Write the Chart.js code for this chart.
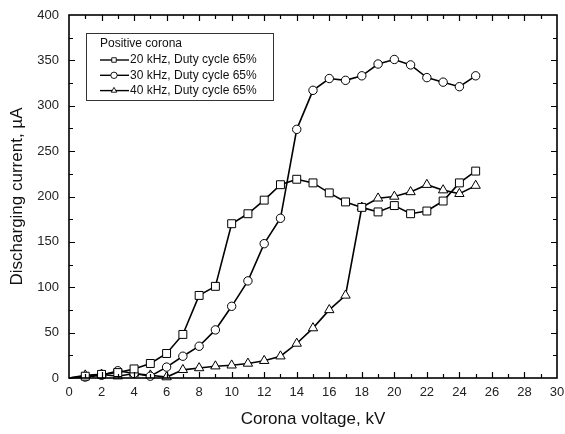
<!DOCTYPE html>
<html>
<head>
<meta charset="utf-8">
<script src="https://cdn.jsdelivr.net/npm/chart.js@4/dist/chart.umd.min.js"></script>
<style>
  html, body { margin: 0; padding: 0; background: #fff; }
  #wrap { width: 565px; height: 434px; }
</style>
</head>
<body>
<div id="wrap"><canvas id="chart"></canvas></div>
<script>
// corona voltage, kV
var voltage = [0, 1, 2, 3, 4, 5, 6, 7, 8, 9, 10, 11, 12, 13, 14, 15, 16, 17, 18, 19, 20, 21, 22, 23, 24, 25];
// discharging current, uA
var current20k = [0, 2, 4, 6, 10, 16, 27, 48, 91, 101, 170, 181, 196, 213, 219, 215, 204, 194, 188, 183, 190, 181, 184, 195, 215, 228];
var current30k = [0, 1, 3, 8, 5, 2, 12, 24, 35, 53, 79, 107, 148, 176, 274, 317, 330, 328, 333, 346, 351, 345, 331, 326, 321, 333];
var current40k = [0, 3, 4, 2, 5, 3, 1, 9, 11, 13, 14, 16, 19, 24, 38, 55, 75, 91, 188, 198, 200, 205, 213, 207, 203, 212];
var seriesLabels = ['20 kHz, Duty cycle 65%', '30 kHz, Duty cycle 65%', '40 kHz, Duty cycle 65%'];
var legendTitle = 'Positive corona';

var FONT = '"Liberation Sans", Arial, sans-serif';

function points(ys) {
    return voltage.map(function (v, i) { return {x: v, y: ys[i]}; });
}

function series(label, ys, style, radius) {
    return {
        label: label,
        data: points(ys),
        borderColor: '#000',
        borderWidth: 1.6,
        backgroundColor: '#fff',
        pointStyle: style,
        // no marker drawn on the axis at 0 kV
        pointRadius: function (c) { return c.dataIndex === 0 ? 0 : radius; },
        pointBorderWidth: 1,
        pointBorderColor: '#000',
        pointBackgroundColor: '#fff',
        tension: 0,
        clip: false
    };
}

// frame with inward ticks on all four sides
var frameTicks = {
    id: 'frameTicks',
    afterDatasetsDraw: function (chart) {
        var ctx = chart.ctx, a = chart.chartArea;
        var xs = chart.scales.x, ys = chart.scales.y;
        ctx.save();
        ctx.strokeStyle = '#000';
        ctx.lineWidth = 1.2;
        ctx.beginPath();
        for (var v = 1; v < 30; v++) {
            var px = Math.round(xs.getPixelForValue(v)) + 0.5;
            var len = v % 2 === 0 ? 6 : 4;
            ctx.moveTo(px, a.bottom); ctx.lineTo(px, a.bottom - len);
            ctx.moveTo(px, a.top); ctx.lineTo(px, a.top + len);
        }
        for (var u = 25; u < 400; u += 25) {
            var py = Math.round(ys.getPixelForValue(u)) + 0.5;
            var l2 = u % 50 === 0 ? 6 : 4;
            ctx.moveTo(a.left, py); ctx.lineTo(a.left + l2, py);
            ctx.moveTo(a.right, py); ctx.lineTo(a.right - l2, py);
        }
        ctx.stroke();
        ctx.lineWidth = 1.6;
        ctx.strokeRect(a.left, a.top, a.right - a.left, a.bottom - a.top);
        ctx.restore();
    }
};

// boxed legend in the upper-left corner of the plot
var boxLegend = {
    id: 'boxLegend',
    afterDraw: function (chart) {
        var ctx = chart.ctx;
        var x0 = 86.5, y0 = 33.5, w = 187, h = 67;
        ctx.save();
        ctx.fillStyle = '#fff';
        ctx.fillRect(x0, y0, w, h);
        ctx.strokeStyle = '#333';
        ctx.lineWidth = 1;
        ctx.strokeRect(x0, y0, w, h);
        ctx.fillStyle = '#111';
        ctx.font = '12px ' + FONT;
        ctx.textBaseline = 'middle';
        ctx.fillText(legendTitle, 100, 44);
        chart.data.datasets.forEach(function (ds, i) {
            var y = 60 + i * 15.3;
            ctx.strokeStyle = '#000';
            ctx.lineWidth = 1.4;
            ctx.beginPath();
            ctx.moveTo(100, y); ctx.lineTo(129, y);
            ctx.stroke();
            ctx.fillStyle = '#fff';
            ctx.lineWidth = 0.9;
            Chart.helpers.drawPoint(ctx, {pointStyle: ds.pointStyle, radius: 3.2, rotation: 0, borderWidth: 0.9}, 114, y);
            ctx.fillStyle = '#111';
            ctx.fillText(ds.label, 130, y);
        });
        ctx.restore();
    }
};

new Chart(document.getElementById('chart'), {
    type: 'line',
    data: {
        datasets: [
            series(seriesLabels[0], current20k, 'rect', 5.6),
            series(seriesLabels[1], current30k, 'circle', 4.2),
            series(seriesLabels[2], current40k, 'triangle', 5.4)
        ]
    },
    options: {
        responsive: true,
        maintainAspectRatio: false,
        animation: false,
        layout: {padding: {top: 15, right: 8, left: 0, bottom: 0}},
        plugins: {legend: {display: false}, tooltip: {enabled: false}},
        scales: {
            x: {
                type: 'linear',
                min: 0, max: 30,
                grid: {display: false, drawTicks: false},
                border: {display: false},
                ticks: {stepSize: 2, padding: 7, color: '#222', font: {family: FONT, size: 13}, maxRotation: 0},
                title: {display: true, text: 'Corona voltage, kV', color: '#111', font: {family: FONT, size: 17}, padding: {top: 0, bottom: 4}},
                afterFit: function (s) {
                    s.height = 56;
                    // let the "30" label run to the canvas edge, as in the original
                    s.paddingLeft = 0;
                    s.paddingRight = 0;
                }
            },
            y: {
                min: 0, max: 400,
                grid: {display: false, drawTicks: false},
                border: {display: false},
                ticks: {stepSize: 50, padding: 10, color: '#222', font: {family: FONT, size: 13}},
                title: {display: true, text: 'Discharging current, µA', color: '#111', font: {family: FONT, size: 17}, padding: {top: 7, bottom: 0}},
                afterFit: function (s) {
                    s.width = 69;
                    s.paddingTop = 0;
                    s.paddingBottom = 0;
                }
            }
        }
    },
    plugins: [frameTicks, boxLegend]
});
</script>
</body>
</html>
